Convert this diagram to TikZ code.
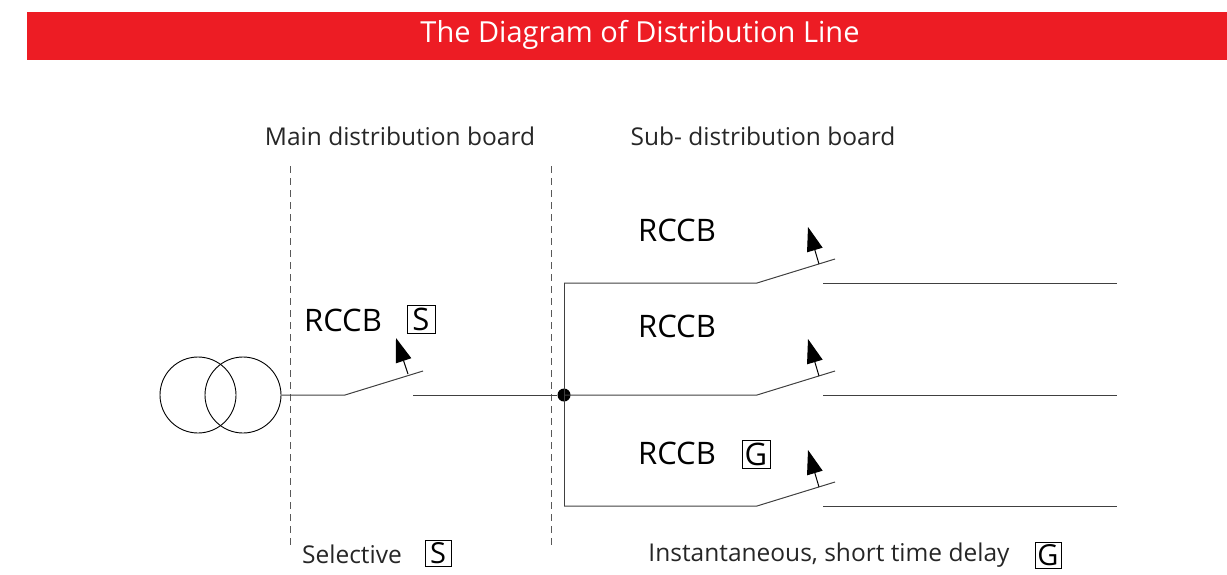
\documentclass[tikz,border=0pt]{standalone}
\usepackage{fontspec}
\setmainfont{Open Sans}
\usetikzlibrary{arrows.meta}
\definecolor{banner}{RGB}{237,28,36}

\begin{document}
\begin{tikzpicture}[x=1pt,y=-1pt,
  wire/.style={line width=1pt, black!75},
  board/.style={dash pattern=on 7pt off 5pt, black!65, line width=1pt},
  coil/.style={circle, draw, line width=0.9pt, minimum size=76pt, inner sep=0pt},
  tag/.style={draw, line width=0.9pt, inner sep=0pt, minimum size=28pt, font=\fontsize{31}{31}\selectfont},
  lbl/.style={font=\fontsize{31}{31}\selectfont, inner sep=0pt},
  caption/.style={font=\fontsize{24.5}{24.5}\selectfont, text=black!85, inner sep=0pt},
  trip/.style={-{Triangle[length=24pt,width=16pt]}, line width=1pt}
]
\useasboundingbox (0,0) rectangle (1227,574);
% title bar
\fill[banner] (27,12) rectangle (1227,60);
\node[text=white, font=\fontsize{29}{29}\selectfont] (title) at (640,35) {The Diagram of Distribution Line};

% boards
\node[caption] (main) at (400,136) {Main distribution board};
\node[caption] (sub) at (763,136) {Sub- distribution board};
\coordinate (m1) at (290,166);
\coordinate (m2) at (290,545);
\coordinate (s1) at (551,166);
\coordinate (s2) at (551,545);
\draw[board] (m1) -- (m2) (s1) -- (s2);

% transformer
\node[coil] (t1) at (198,395) {};
\node[coil] (t2) at (243,395) {};

% main breaker
\coordinate (ma) at (345,395);
\coordinate (mb) at (423,371);
\coordinate (mc) at (413,395);
\coordinate (mt) at (408,374);
\node[circle, fill, inner sep=0pt, minimum size=13pt] (bus) at (564,395) {};
\draw[wire] (t2.east) -- (ma) -- (mb);
\draw[wire] (mc) -- (bus);
\draw[trip] (mt) -- ++(-12,-36);
\node[lbl] (rm) at (343,320) {RCCB};
\node[tag] (sm) at (421,319) {S};

% outgoing breakers
\foreach \y/\n in {283/a,395/b,506/c}{
  \coordinate (\n0) at (564,\y);
  \coordinate (\n1) at (757,\y);
  \coordinate (\n2) at (835,\y-24);
  \coordinate (\n3) at (823,\y);
  \coordinate (\n4) at (1117,\y);
  \coordinate (\n5) at (819,\y-19);
  \draw[wire] (\n0) -- (\n1) -- (\n2);
  \draw[wire] (\n3) -- (\n4);
  \draw[trip] (\n5) -- ++(-11,-37);
}
\draw[wire] (a0) -- (c0);
\node[lbl] (ra) at (677,230) {RCCB};
\node[lbl] (rb) at (677,326) {RCCB};
\node[lbl] (rc) at (677,453) {RCCB};
\node[tag] (gc) at (756,454) {G};

% legend
\node[caption] (sel) at (352,554) {Selective};
\node[tag, minimum size=26pt, font=\fontsize{29}{29}\selectfont] (sl) at (438,553) {S};
\node[caption] (inst) at (829,555) {Instantaneous, short time delay};
\node[tag, minimum size=26pt, font=\fontsize{29}{29}\selectfont] (gl) at (1048,555) {G};
\end{tikzpicture}
\end{document}
